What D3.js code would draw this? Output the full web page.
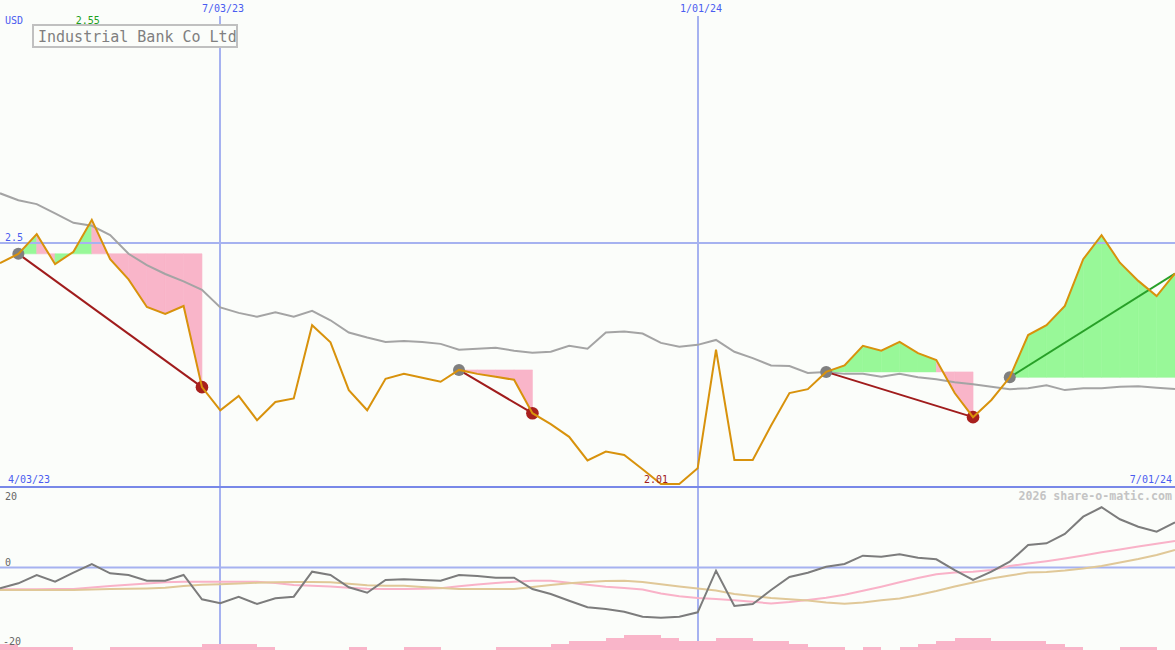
<!DOCTYPE html>
<html><head><meta charset="utf-8">
<script src="https://cdn.jsdelivr.net/npm/d3@7"></script>
<style>
html,body{margin:0;padding:0;background:#fbfdfa;}
svg{display:block;}
text{font-family:"DejaVu Sans Mono",monospace;}
</style></head><body>
<svg id="chart" width="1175" height="650"></svg>
<script>
// ---------- data ----------
const firstDate = "2023-04-10", lastDate = "2024-07-01";
const currency = "USD";
const title = "Industrial Bank Co Ltd";
const credit = "2026 share-o-matic.com";
const cornerLabels = ["4/03/23", "7/01/24"];
const dateTicks = ["2023-07-03", "2024-01-01"];
const priceTicks = [2.5];
const oscTicks = [20, 0, -20];

const price = [2.459, 2.478, 2.518, 2.457, 2.482, 2.547, 2.467, 2.426, 2.370, 2.356,
  2.372, 2.207, 2.160, 2.189, 2.140, 2.177, 2.184, 2.333, 2.298, 2.201,
  2.160, 2.224, 2.234, 2.226, 2.218, 2.242, 2.234, 2.228, 2.222, 2.154,
  2.132, 2.106, 2.058, 2.076, 2.069, 2.040, 2.010, 2.010, 2.042, 2.283,
  2.059, 2.059, 2.129, 2.195, 2.203, 2.238, 2.251, 2.291, 2.281, 2.299,
  2.276, 2.262, 2.195, 2.146, 2.181, 2.227, 2.313, 2.333, 2.372, 2.467,
  2.516, 2.460, 2.423, 2.392, 2.438];

const movingAvg = [2.601, 2.587, 2.579, 2.560, 2.541, 2.535, 2.516, 2.478, 2.455, 2.437,
  2.422, 2.405, 2.369, 2.358, 2.350, 2.359, 2.350, 2.362, 2.343, 2.318,
  2.308, 2.299, 2.301, 2.299, 2.295, 2.283, 2.285, 2.287, 2.281, 2.277,
  2.279, 2.291, 2.285, 2.318, 2.320, 2.316, 2.297, 2.289, 2.293, 2.303,
  2.279, 2.266, 2.251, 2.250, 2.236, 2.238, 2.234, 2.234, 2.228, 2.234,
  2.227, 2.223, 2.217, 2.213, 2.208, 2.203, 2.205, 2.211, 2.201, 2.205,
  2.205, 2.208, 2.209, 2.206, 2.203];

const signalEntry = [1, 25, 45, 55];
const signalExit = [11, 29, 53, null];

const oscGray = [-5.23, -3.98, -1.89, -3.57, -1.31, 0.88, -1.46, -1.89, -3.32, -3.32,
  -1.89, -8.00, -9.01, -7.35, -9.18, -7.75, -7.35, -1.06, -1.89, -4.98,
  -6.34, -3.14, -2.97, -3.14, -3.32, -1.89, -2.14, -2.57, -2.57, -5.41,
  -6.67, -8.35, -10.01, -10.44, -11.12, -12.38, -12.63, -12.38, -11.27, -0.81,
  -9.69, -9.18, -5.66, -2.39, -1.31, 0.20, 0.88, 2.97, 2.72, 3.32,
  2.47, 2.06, -0.63, -3.14, -1.06, 1.46, 5.66, 6.09, 8.43, 12.78,
  15.15, 12.13, 10.27, 9.01, 11.37];

const oscPink = [-5.48, -5.48, -5.48, -5.41, -5.41, -5.03, -4.65, -4.35, -4.03, -3.72,
  -3.57, -3.57, -3.57, -3.57, -3.57, -3.90, -4.40, -4.58, -4.78, -5.08,
  -5.33, -5.41, -5.41, -5.33, -5.21, -4.73, -4.28, -3.90, -3.60, -3.32,
  -3.32, -3.82, -4.33, -4.86, -5.16, -5.54, -6.54, -7.22, -7.67, -7.93,
  -8.23, -8.63, -9.06, -8.68, -8.18, -7.60, -6.84, -5.84, -4.83, -3.72,
  -2.64, -1.71, -1.26, -1.06, -0.63, 0.38, 1.01, 1.59, 2.26, 3.02,
  3.85, 4.53, 5.28, 5.99, 6.67];

const oscTan = [-5.66, -5.66, -5.66, -5.66, -5.66, -5.54, -5.41, -5.36, -5.28, -5.11,
  -4.65, -4.33, -4.20, -4.03, -3.85, -3.70, -3.65, -3.65, -3.72, -4.08,
  -4.48, -4.58, -4.60, -4.91, -5.16, -5.41, -5.41, -5.41, -5.41, -4.91,
  -4.40, -3.98, -3.65, -3.40, -3.32, -3.65, -4.20, -4.78, -5.28, -5.79,
  -6.67, -7.17, -7.67, -8.00, -8.30, -8.81, -9.11, -8.81, -8.25, -7.80,
  -6.92, -5.91, -4.78, -3.77, -2.77, -2.01, -1.26, -1.13, -0.75, -0.25,
  0.38, 1.26, 2.14, 3.15, 4.40];

const barLevels = [2, 1, 1, 1, 0, 0, 1, 1, 1, 1,
  1, 2, 2, 2, 1, 0, 0, 0, 0, 1,
  0, 0, 1, 1, 0, 0, 0, 1, 1, 1,
  2, 3, 3, 4, 5, 5, 4, 3, 3, 4,
  4, 3, 3, 2, 1, 1, 0, 1, 0, 1,
  2, 3, 4, 4, 3, 3, 3, 2, 1, 0,
  0, 1, 1, 0];

// ---------- setup ----------
const W = 1175, H = 650;
const svg = d3.select("#chart");
const parse = d3.timeParse("%Y-%m-%d");
const dates = d3.timeMonday.range(parse(firstDate), d3.timeDay.offset(parse(lastDate), 1));
const fmtDate = d3.timeFormat("%-m/%d/%y");

const x = d3.scaleTime().domain([dates[0], dates[dates.length - 1]]).range([0, W]);
const yP = d3.scaleLinear().domain([2, 3]).range([489, -3]);
const yB = d3.scaleLinear().domain([-20, 20]).range([647, 488]);
const yBar = d3.scaleLinear().domain([0, 5]).range([650, 635]);

const C = {
  grid: "#a6b2f0", border: "#7888e8", axisText: "#4a5cf0",
  priceLine: "#d8920c", ma: "#a4a4a4", green: "#98f898", pink: "#f9b5c9",
  red: "#a01c1c", redDot: "#a8201e", grayDot: "#808080", greenLine: "#28a028",
  oscGray: "#7c7c7c", oscPink: "#f9b2c8", oscTan: "#e0c898", bars: "#f9b5c9"
};

// ---------- signal fills ----------
const gFill = svg.append("g");
signalEntry.forEach((s, k) => {
  const e = signalExit[k] == null ? price.length - 1 : signalExit[k];
  const base = price[s];
  for (let i = s; i < e; i++) {
    const pts = [[x(dates[i]), yP(price[i])], [x(dates[i + 1]), yP(price[i + 1])],
                 [x(dates[i + 1]), yP(base)], [x(dates[i]), yP(base)]];
    gFill.append("path")
      .attr("d", "M" + pts.map(p => p.join(",")).join("L") + "Z")
      .attr("fill", price[i + 1] >= base ? C.green : C.pink)
      .attr("stroke", price[i + 1] >= base ? C.green : C.pink)
      .attr("stroke-width", 0.6);
  }
});

// ---------- grid ----------
const gGrid = svg.append("g");
dateTicks.forEach(d => {
  const xx = Math.round(x(parse(d)));
  gGrid.append("line").attr("x1", xx).attr("x2", xx).attr("y1", 16).attr("y2", H)
    .attr("stroke", C.grid).attr("stroke-width", 2);
  svg.append("text").attr("x", xx + 3).attr("y", 12).attr("text-anchor", "middle")
    .attr("font-size", 10).attr("fill", C.axisText).text(fmtDate(parse(d)));
});
priceTicks.forEach(v => {
  gGrid.append("line").attr("x1", 0).attr("x2", W).attr("y1", yP(v)).attr("y2", yP(v))
    .attr("stroke", C.grid).attr("stroke-width", 2);
  svg.append("text").attr("x", 5).attr("y", yP(v) - 2).attr("font-size", 10)
    .attr("fill", C.axisText).text(v);
});

// ---------- moving average ----------
const lineP = d3.line().x((d, i) => x(dates[i])).y(d => yP(d));
svg.append("path").datum(movingAvg).attr("d", lineP).attr("fill", "none")
  .attr("stroke", C.ma).attr("stroke-width", 2);

// ---------- signal lines ----------
signalEntry.forEach((s, k) => {
  const open = signalExit[k] == null;
  const e = open ? price.length - 1 : signalExit[k];
  svg.append("line")
    .attr("x1", x(dates[s])).attr("y1", yP(price[s]))
    .attr("x2", x(dates[e])).attr("y2", yP(price[e]))
    .attr("stroke", open ? C.greenLine : C.red).attr("stroke-width", 2);
});
signalEntry.forEach((s, k) => {
  svg.append("circle").attr("cx", x(dates[s])).attr("cy", yP(price[s])).attr("r", 6)
    .attr("fill", C.grayDot);
  if (signalExit[k] != null) {
    const e = signalExit[k];
    svg.append("circle").attr("cx", x(dates[e])).attr("cy", yP(price[e])).attr("r", 6.3)
      .attr("fill", C.redDot);
  }
});

// ---------- price ----------
svg.append("path").datum(price).attr("d", lineP).attr("fill", "none")
  .attr("stroke", C.priceLine).attr("stroke-width", 2).attr("stroke-linejoin", "miter");

// ---------- lower panel ----------
svg.append("line").attr("x1", 0).attr("x2", W).attr("y1", 487).attr("y2", 487)
  .attr("stroke", C.border).attr("stroke-width", 2);

svg.append("g").selectAll("rect").data(barLevels).join("rect")
  .attr("x", (d, i) => x(dates[i]))
  .attr("width", (d, i) => x(dates[i + 1]) - x(dates[i]))
  .attr("y", d => yBar(d))
  .attr("height", d => yBar(0) - yBar(d))
  .attr("fill", C.bars).attr("shape-rendering", "crispEdges");

svg.append("line").attr("x1", 0).attr("x2", W).attr("y1", yB(0)).attr("y2", yB(0))
  .attr("stroke", C.grid).attr("stroke-width", 2);

const lineB = d3.line().x((d, i) => x(dates[i])).y(d => yB(d));
[[oscPink, C.oscPink], [oscTan, C.oscTan], [oscGray, C.oscGray]].forEach(([arr, col]) => {
  svg.append("path").datum(arr).attr("d", lineB).attr("fill", "none")
    .attr("stroke", col).attr("stroke-width", 2);
});

oscTicks.forEach(v => {
  svg.append("text").attr("x", v < 0 ? 3 : 5).attr("y", Math.max(yB(v) - 2, 499.5))
    .attr("font-size", 10).attr("fill", "#666").text(v);
});

// ---------- labels ----------
svg.append("text").attr("x", 5).attr("y", 24).attr("font-size", 10)
  .attr("fill", C.axisText).text(currency);
const iMax = d3.maxIndex(price), iMin = d3.minIndex(price);
svg.append("text").attr("x", x(dates[iMax]) - 4).attr("y", 24).attr("text-anchor", "middle")
  .attr("font-size", 10).attr("fill", "#20a020").text(d3.format(".2f")(price[iMax]));
svg.append("text").attr("x", x(dates[iMin]) - 5).attr("y", 483).attr("text-anchor", "middle")
  .attr("font-size", 10).attr("fill", C.red).text(d3.format(".2f")(price[iMin]));
svg.append("text").attr("x", 8).attr("y", 483).attr("font-size", 10)
  .attr("fill", C.axisText).text(cornerLabels[0]);
svg.append("text").attr("x", W - 3).attr("y", 483).attr("text-anchor", "end")
  .attr("font-size", 10).attr("fill", C.axisText).text(cornerLabels[1]);
svg.append("text").attr("x", W - 3).attr("y", 500).attr("text-anchor", "end")
  .attr("font-size", 11.6).attr("font-weight", "bold").attr("fill", "#c4c4c4").text(credit);

// title box
svg.append("rect").attr("x", 33).attr("y", 25).attr("width", 204).attr("height", 22)
  .attr("fill", "#fbfdfa").attr("stroke", "#c0c0c0").attr("stroke-width", 2);
svg.append("text").attr("x", 38).attr("y", 41.5).attr("font-size", 15)
  .attr("fill", "#808080").text(title);
</script>
</body></html>
